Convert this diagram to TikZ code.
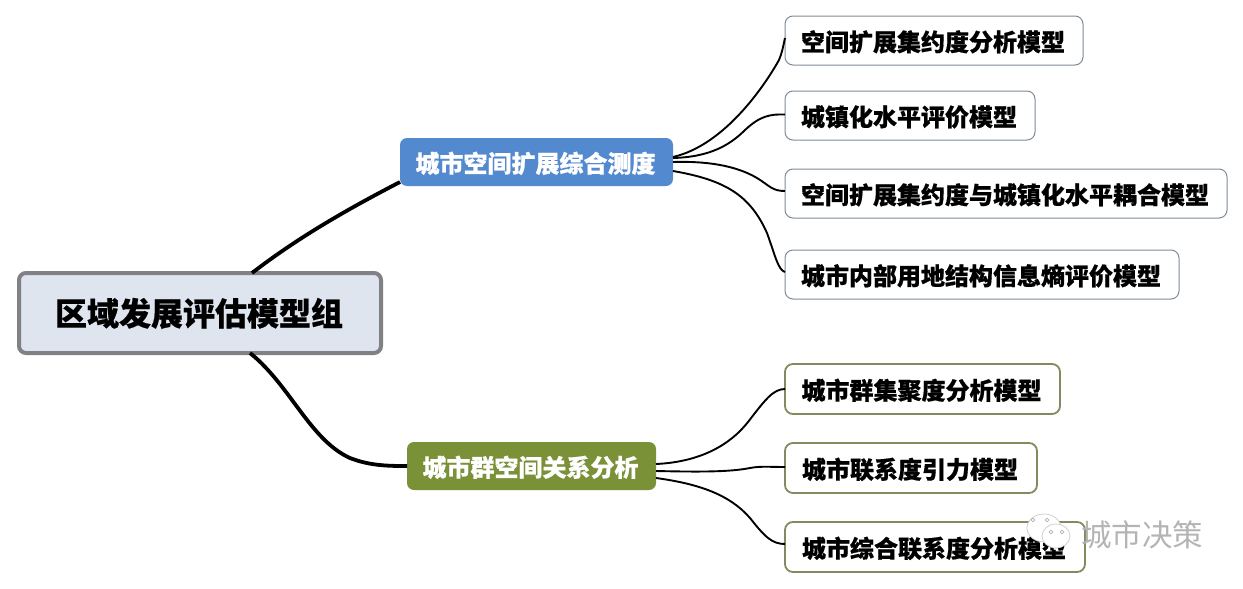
\documentclass[tikz,border=0pt]{standalone}
\usepackage{fontspec}
\setmainfont[BoldFeatures={FakeBold=0.6}]{Noto Sans CJK SC}
\definecolor{rootfill}{HTML}{DEE5EF}
\definecolor{rootline}{HTML}{808085}
\definecolor{bluefill}{HTML}{5389CF}
\definecolor{greenfill}{HTML}{7A9138}
\definecolor{blueline}{HTML}{7F8C98}
\definecolor{greenline}{HTML}{85895F}
\definecolor{wm}{HTML}{B4B4B4}
\tikzset{
  boxbase/.style={rectangle,anchor=north west,inner sep=0pt,outer sep=0pt,align=center},
  rootbox/.style={boxbase,draw=rootline,fill=rootfill,line width=4pt,rounded corners=7pt,font=\fontsize{32}{36}\selectfont\bfseries,text=black},
  midbox/.style={boxbase,rounded corners=7pt,font=\fontsize{24}{28}\selectfont\bfseries,text=white},
  leafbox/.style={boxbase,fill=white,rounded corners=8pt,font=\fontsize{24}{28}\selectfont\bfseries,text=black},
  blueleaf/.style={leafbox,draw=blueline,line width=1pt},
  greenleaf/.style={leafbox,draw=greenline,line width=1.8pt},
  trunk/.style={draw=black,line width=3.8pt},
  twig/.style={draw=black,line width=1.9pt},
}
\newcommand{\boxat}[7]{\node[#2,minimum width=#5pt-#3pt,minimum height=#6pt-#4pt] (#1) at (#3,#4) {\rule[-9pt]{0pt}{\dimexpr .5em+27pt\relax}\kern-2pt #7};}
\begin{document}
\begin{tikzpicture}[x=1pt,y=-1pt]
\useasboundingbox (0,0) rectangle (1243,589);
\boxat{root}{rootbox}{19}{273}{381}{353}{区域发展评估模型组}
\boxat{blue}{midbox,fill=bluefill}{400}{138}{673}{186}{城市空间扩展综合测度}
\boxat{green}{midbox,fill=greenfill}{407}{442}{656}{490}{城市群空间关系分析}
\boxat{a}{blueleaf}{785}{16}{1083}{65}{空间扩展集约度分析模型}
\boxat{b}{blueleaf}{785}{91}{1035}{140}{城镇化水平评价模型}
\boxat{c}{blueleaf}{785}{169}{1227}{218}{空间扩展集约度与城镇化水平耦合模型}
\boxat{d}{blueleaf}{785}{250}{1179}{299}{城市内部用地结构信息熵评价模型}
\boxat{e}{greenleaf}{785}{364}{1060}{414}{城市群集聚度分析模型}
\boxat{f}{greenleaf}{785}{443}{1037}{493}{城市联系度引力模型}
\boxat{g}{greenleaf}{785}{522}{1085}{572}{城市综合联系度分析模型}
% trunks
\path[trunk] ([xshift=52pt]root.north) .. controls (300,236) and (350,208) .. ([yshift=4pt]blue.south west);
\path[trunk] ([xshift=50pt]root.south) .. controls (290,385) and (310,440) .. (350,458) .. controls (370,466) and (390,466) .. (green.west);
% twigs
\path[twig] ([yshift=5pt]blue.east) .. controls (725,145) and (765,85) .. (779,60) .. controls (782,53) and (783,47) .. ([yshift=2.5pt]a.west);
\path[twig] ([yshift=4pt]blue.east) .. controls (710,157) and (730,145) .. (745,130) .. controls (760,116) and (770,114) .. ([yshift=1pt]b.west);
\path[twig] ([yshift=0pt]blue.east) .. controls (705,161) and (735,165) .. (757,178) .. controls (770,186) and (772,191) .. ([yshift=2.5pt]c.west);
\path[twig] ([yshift=-9pt]blue.east) .. controls (725,180) and (750,195) .. (767,233) .. controls (775,255) and (778,270) .. ([yshift=2.5pt]d.west);
\path[twig] ([yshift=2pt]green.east) .. controls (700,462) and (730,445) .. (748,422) .. controls (765,400) and (773,389) .. (e.west);
\path[twig] ([yshift=-5pt]green.east) .. controls (700,472) and (730,472) .. (750,468) .. controls (760,466) and (770,467) .. ([yshift=1pt]f.west);
\path[twig] ([yshift=-12pt]green.east) .. controls (700,484) and (730,495) .. (750,518) .. controls (765,537) and (772,544) .. ([yshift=3pt]g.west);
% watermark
\node[inner sep=0pt] (wmtext) at (1142,535) {\textcolor{wm}{\fontsize{30.5}{32}\selectfont 城市决策}};
\coordinate (wmback) at (1044,528);
\coordinate (wmfront) at (1056,536);
\draw[draw=wm!70,fill=white,line width=.7pt] (wmback) ellipse [x radius=17pt,y radius=14pt];
\draw[draw=wm!70,fill=white,line width=.7pt] (wmfront) ellipse [x radius=14pt,y radius=12pt];
\foreach \p in {(1033,520),(1047,520),(1051,532),(1062,532)}
  \draw[wm,line width=.7pt] \p circle (1.8pt);
\end{tikzpicture}
\end{document}
